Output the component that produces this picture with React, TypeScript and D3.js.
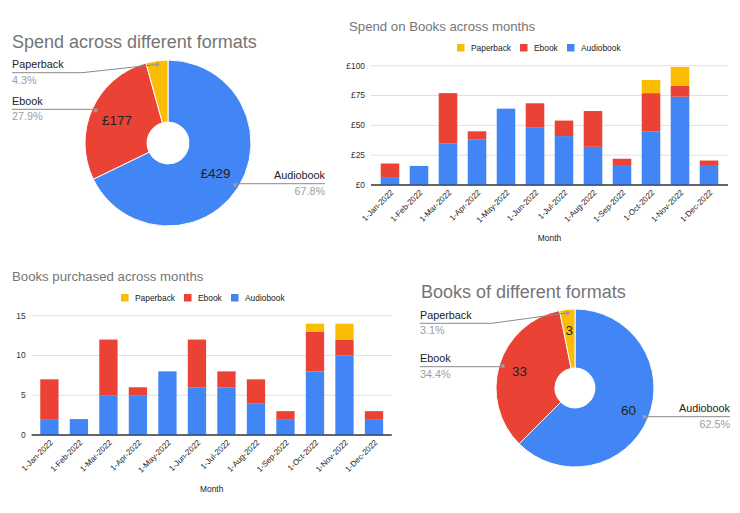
import React from "react";
import * as d3 from "d3";

// data
const formats = ["Audiobook", "Ebook", "Paperback"];
const formatColors = ["#4285f4", "#ea4335", "#fbbc04"];
const legendOrder = [2, 1, 0]; // Paperback, Ebook, Audiobook

const spendByFormat = [429.3, 176.6, 27.1];
const booksByFormat = [60, 33, 3];

const months = [
  "1-Jan-2022", "1-Feb-2022", "1-Mar-2022", "1-Apr-2022", "1-May-2022", "1-Jun-2022",
  "1-Jul-2022", "1-Aug-2022", "1-Sep-2022", "1-Oct-2022", "1-Nov-2022", "1-Dec-2022",
];

const spendAudiobook = [6, 16, 35, 38, 64, 48, 41, 32, 16, 45, 74, 16];
const spendEbook = [12, 0, 42, 7, 0, 20.5, 13, 30, 6, 32, 9, 4.5];
const spendPaperback = [0, 0, 0, 0, 0, 0, 0, 0, 0, 11, 16, 0];

const booksAudiobook = [2, 2, 5, 5, 8, 6, 6, 4, 2, 8, 10, 2];
const booksEbook = [5, 0, 7, 1, 0, 6, 2, 3, 1, 5, 2, 1];
const booksPaperback = [0, 0, 0, 0, 0, 0, 0, 0, 0, 1, 2, 0];

const spendTicks = [0, 25, 50, 75, 100];
const bookTicks = [0, 5, 10, 15];

const FONT = "'Liberation Sans', Arial, sans-serif";

type Callout = { side: "left" | "right"; lineY: number; bendX?: number };

function DonutChart(props: any) {
  const {
    title, titleSize, titleX, titleY, cx, cy, radius, hole, labelR,
    values, valueText, leftX, rightX, callouts,
  } = props;
  const total = d3.sum(values as number[]);
  const arcs = d3.pie<number>().sort(null).value((d) => d)(values);
  const arc = d3.arc<d3.PieArcDatum<number>>().innerRadius(hole).outerRadius(radius);
  const labelArc = d3.arc<d3.PieArcDatum<number>>().innerRadius(labelR).outerRadius(labelR);
  const dotR = radius * 0.955;
  const dotArc = d3.arc<d3.PieArcDatum<number>>().innerRadius(dotR).outerRadius(dotR);

  return (
    <g>
      <text x={titleX} y={titleY} fontSize={titleSize} fill="#757575">{title}</text>
      <g transform={`translate(${cx},${cy})`}>
        {arcs.map((a, i) => (
          <path key={i} d={arc(a) || ""} fill={formatColors[i]} stroke="#fff" strokeWidth={1} />
        ))}
        {arcs.map((a, i) => {
          // only label slices wide enough to hold the text
          const txt = valueText(values[i]);
          const span = (a.endAngle - a.startAngle) * labelR;
          if (txt.length * 7.5 > span) return null;
          const [lx, ly] = labelArc.centroid(a);
          return (
            <text key={i} x={lx} y={ly} dy="0.36em" textAnchor="middle" fontSize={13.5} fill="#222">
              {txt}
            </text>
          );
        })}
      </g>
      {arcs.map((a, i) => {
        const c: Callout = callouts[i];
        const [dx, dy] = dotArc.centroid(a);
        const px = cx + dx;
        const py = cy + dy;
        const pct = d3.format(".1f")((values[i] / total) * 100) + "%";
        const left = c.side === "left";
        const textX = left ? leftX : rightX;
        const bend = c.bendX ?? px;
        const d = `M${px},${py}L${bend},${c.lineY}L${textX},${c.lineY}`;
        return (
          <g key={"c" + i}>
            <path d={d} fill="none" stroke="#8a8a8a" strokeWidth={1} />
            <circle cx={px} cy={py} r={2} fill="#9e9e9e" />
            <text x={textX} y={c.lineY - 4.5} textAnchor={left ? "start" : "end"} fontSize={10.8} fill="#222">
              {formats[i]}
            </text>
            <text x={textX} y={c.lineY + 11} textAnchor={left ? "start" : "end"} fontSize={10.8} fill="#9e9e9e">
              {pct}
            </text>
          </g>
        );
      })}
    </g>
  );
}

function StackedBars(props: any) {
  const {
    title, titleX, titleY, legendX, legendY, left, right, top, bottom,
    maxY, ticks, tickFormat, series, xLabelY, padInner, padOuter,
  } = props;
  const rows = months.map((m, i) => {
    const r: any = { month: m };
    formats.forEach((f, k) => (r[f] = series[k][i]));
    return r;
  });
  const stacked = d3.stack<any>().keys(formats)(rows);
  const x = d3.scaleBand().domain(months).range([left, right]).paddingInner(padInner).paddingOuter(padOuter);
  const y = d3.scaleLinear().domain([0, maxY]).range([bottom, top]);

  return (
    <g>
      <text x={titleX} y={titleY} fontSize={13.2} fill="#757575">{title}</text>
      {legendOrder.map((k, j) => (
        <g key={k}>
          <rect x={legendX[j]} y={legendY - 7} width={7.5} height={7.5} fill={formatColors[k]} />
          <text x={legendX[j] + 14} y={legendY} fontSize={8.4} fill="#222">{formats[k]}</text>
        </g>
      ))}
      {ticks.map((t: number) => (
        <g key={t}>
          <line x1={left} x2={right} y1={y(t)} y2={y(t)} stroke={t === 0 ? "#333" : "#e0e0e0"} strokeWidth={1} />
          <text x={left - 6} y={y(t)} dy="0.35em" textAnchor="end" fontSize={8.4} fill="#333">
            {tickFormat(t)}
          </text>
        </g>
      ))}
      {stacked.map((layer, k) => (
        <g key={k} fill={formatColors[k]}>
          {layer.map((d, i) =>
            d[1] - d[0] > 0 ? (
              <rect
                key={i}
                x={x(months[i])}
                y={y(d[1])}
                width={x.bandwidth()}
                height={y(d[0]) - y(d[1])}
              />
            ) : null
          )}
        </g>
      ))}
      <line x1={left} x2={right} y1={y(0)} y2={y(0)} stroke="#333" strokeWidth={1} />
      {months.map((m) => {
        const cxm = (x(m) as number) + x.bandwidth() / 2;
        return (
          <text
            key={m}
            transform={`translate(${cxm + 4},${bottom + 8}) rotate(-45)`}
            textAnchor="end"
            fontSize={8}
            fill="#222"
          >
            {m}
          </text>
        );
      })}
      <text x={(left + right) / 2} y={xLabelY} textAnchor="middle" fontSize={8.4} fontWeight={500} fill="#222">
        Month
      </text>
    </g>
  );
}

export default function App() {
  return (
    <div style={{ position: "absolute", left: 0, top: 0 }}>
      <svg width={740} height={513} style={{ display: "block", background: "#fff", fontFamily: FONT }}>
        <DonutChart
          title="Spend across different formats"
          titleSize={18}
          titleX={12}
          titleY={48}
          cx={168}
          cy={143}
          radius={83}
          hole={21}
          labelR={56}
          values={spendByFormat}
          valueText={(v: number) => "£" + Math.round(v)}
          leftX={12}
          rightX={325}
          callouts={[
            { side: "right", lineY: 183.7 },
            { side: "left", lineY: 109.3 },
            { side: "left", lineY: 72.7, bendX: 82 },
          ]}
        />
        <StackedBars
          title="Spend on Books across months"
          titleX={349}
          titleY={31}
          legendX={[457, 520, 567]}
          legendY={51}
          left={371}
          right={728}
          top={65.7}
          bottom={185}
          maxY={100}
          ticks={spendTicks}
          tickFormat={(t: number) => "£" + t}
          series={[spendAudiobook, spendEbook, spendPaperback]}
          xLabelY={241}
          padInner={0.36}
          padOuter={0.335}
        />
        <StackedBars
          title="Books purchased across months"
          titleX={12}
          titleY={281}
          legendX={[121, 184, 231]}
          legendY={301}
          left={31.7}
          right={391.7}
          top={315.7}
          bottom={435}
          maxY={15}
          ticks={bookTicks}
          tickFormat={(t: number) => String(t)}
          series={[booksAudiobook, booksEbook, booksPaperback]}
          xLabelY={492}
          padInner={0.38}
          padOuter={0.29}
        />
        <DonutChart
          title="Books of different formats"
          titleSize={18}
          titleX={421}
          titleY={298}
          cx={575}
          cy={388}
          radius={79}
          hole={20}
          labelR={58}
          values={booksByFormat}
          valueText={(v: number) => String(v)}
          leftX={420}
          rightX={730}
          callouts={[
            { side: "right", lineY: 416.7 },
            { side: "left", lineY: 366.7 },
            { side: "left", lineY: 323.3, bendX: 492 },
          ]}
        />
      </svg>
    </div>
  );
}
